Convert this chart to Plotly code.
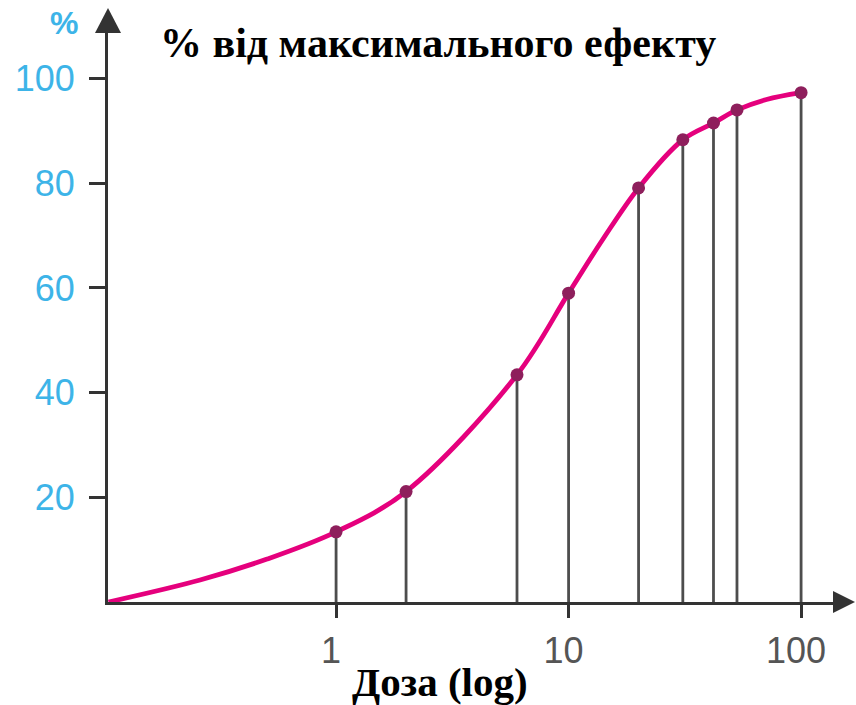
import plotly.graph_objects as go

# Measured points: dose (log scale) and percentage of the maximal effect
dose = [1, 2, 6, 10, 20, 31, 42, 53, 100]
effect = [13.4, 21.1, 43.4, 59.0, 79.1, 88.3, 91.5, 94.0, 97.3]

# Dose-response curve traced through the points, starting at the origin
curve_dose = [0.105, 0.26, 0.505, 1, 2, 6, 10, 14, 20, 31, 42, 53, 71, 100]
curve_effect = [0, 4.2, 8.2, 13.4, 21.1, 43.4, 59.0, 69.2, 79.1, 88.3, 91.5, 94.0, 96.0, 97.3]

x_ticks = [1, 10, 100]
x_tick_labels = ["1", "10", "100"]
y_ticks = [20, 40, 60, 80, 100]
y_tick_labels = ["20", "40", "60", "80", "100"]

W, H = 856, 705
L, R, T, B = 108, 16, 30, 103
PW, PH = W - L - R, H - T - B


def px(xp):
    return (xp - L) / PW


def py(yp):
    return (H - B - yp) / PH


AXIS = "#333333"
CURVE = "#e5007d"
MARK = "#8e1f5c"
BLUE = "#3db4e8"

fig = go.Figure()

# vertical drop lines from each point down to the dose axis
drop_x, drop_y = [], []
for d, e in zip(dose, effect):
    drop_x += [d, d, None]
    drop_y += [0, e, None]
fig.add_trace(go.Scatter(x=drop_x, y=drop_y, mode="lines",
                         line=dict(color="#4d4d4d", width=2.8),
                         hoverinfo="skip", showlegend=False))

# dose-response curve
fig.add_trace(go.Scatter(x=curve_dose, y=curve_effect, mode="lines",
                         line=dict(color=CURVE, width=4.8, shape="spline", smoothing=1.0),
                         showlegend=False))

# measured points
fig.add_trace(go.Scatter(x=dose, y=effect, mode="markers",
                         marker=dict(color=MARK, size=13),
                         showlegend=False))

fig.update_layout(
    width=W, height=H,
    margin=dict(l=L, r=R, t=T, b=B),
    paper_bgcolor="white", plot_bgcolor="white",
    xaxis=dict(type="log", range=[-0.981, -0.981 + PW / 232.5],
               showline=True, linecolor=AXIS, linewidth=3,
               showgrid=False, zeroline=False,
               ticks="outside", ticklen=13, tickwidth=3, tickcolor=AXIS,
               tickvals=x_ticks, ticktext=x_tick_labels,
               ticklabelshift=-5, ticklabelstandoff=2,
               tickfont=dict(family="Liberation Sans", size=36, color="#555555")),
    yaxis=dict(range=[0, PH / 5.235],
               showline=True, linecolor=AXIS, linewidth=3,
               showgrid=False, zeroline=False,
               ticks="outside", ticklen=16, tickwidth=3, tickcolor=AXIS,
               tickvals=y_ticks, ticktext=y_tick_labels,
               ticklabelstandoff=7,
               tickfont=dict(family="Liberation Sans", size=36, color=BLUE)),
    shapes=[
        # arrow heads on both axes
        dict(type="path", xref="paper", yref="paper",
             path=f"M {px(108)},{py(8)} L {px(95)},{py(33)} L {px(121)},{py(33)} Z",
             fillcolor=AXIS, line=dict(width=0)),
        dict(type="path", xref="paper", yref="paper",
             path=f"M {px(855)},{py(602)} L {px(833)},{py(591)} L {px(833)},{py(613)} Z",
             fillcolor=AXIS, line=dict(width=0)),
    ],
    annotations=[
        dict(text="<b>%</b>", xref="paper", yref="paper", x=px(64), y=py(23),
             showarrow=False, xanchor="center", yanchor="middle",
             font=dict(family="Liberation Sans", size=32, color=BLUE)),
        dict(text="<b>% від максимального ефекту</b>", xref="paper", yref="paper",
             x=px(438), y=py(43), showarrow=False, xanchor="center", yanchor="middle",
             font=dict(family="Liberation Serif", size=42, color="black")),
        dict(text="<b>Доза (log)</b>", xref="paper", yref="paper",
             x=px(440), y=py(682), showarrow=False, xanchor="center", yanchor="middle",
             font=dict(family="Liberation Serif", size=41, color="black")),
    ],
)

fig.write_html("out.html")
